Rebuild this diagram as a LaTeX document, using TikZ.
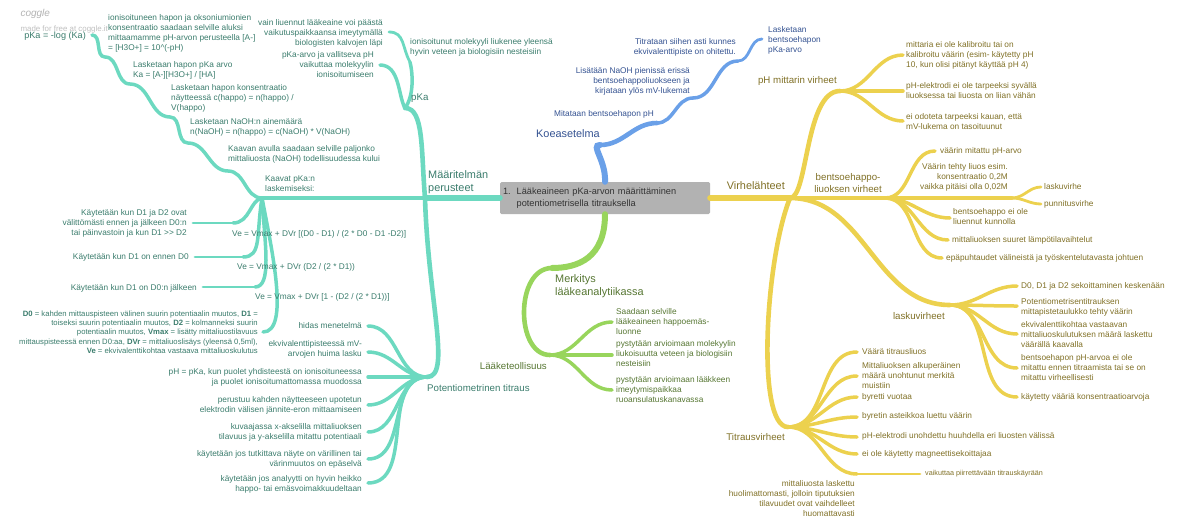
\documentclass[tikz,border=0pt]{standalone}
\usepackage{fontspec}
\setmainfont{Liberation Sans}
\usetikzlibrary{calc}
\definecolor{tealc}{RGB}{108,217,192}
\definecolor{tealt}{RGB}{58,124,108}
\definecolor{bluec}{RGB}{106,160,232}
\definecolor{bluet}{RGB}{52,82,145}
\definecolor{greenc}{RGB}{152,213,92}
\definecolor{greent}{RGB}{86,118,50}
\definecolor{yelc}{RGB}{236,209,78}
\definecolor{yelt}{RGB}{128,112,38}
\definecolor{rootc}{RGB}{178,178,178}
\tikzset{
  big/.style={inner sep=0pt,font=\fontsize{10.9}{13}\selectfont},
  mid/.style={inner sep=0pt,font=\fontsize{9.7}{11.8}\selectfont},
  sml/.style={inner sep=0pt,font=\fontsize{8.3}{10}\selectfont},
  tiny/.style={inner sep=0pt,font=\fontsize{7.2}{8.5}\selectfont},
  wA/.style={line width=6pt},
  wB/.style={line width=4.6pt},
  wC/.style={line width=3.5pt},
  wD/.style={line width=2.8pt},
  tbr/.style={draw=tealc,line cap=round},
  bbr/.style={draw=bluec,line cap=round},
  gbr/.style={draw=greenc,line cap=round},
  ybr/.style={draw=yelc,line cap=round},
  rootbox/.style={fill=rootc,rounded corners=1.5pt,minimum width=210pt,minimum height=32pt,
    text width=204pt,align=left,inner xsep=3pt,text=black!80,font=\fontsize{9.2}{12}\selectfont}
}
\begin{document}
\begin{tikzpicture}[x=1pt,y=-1pt]
\useasboundingbox (0,0) rectangle (1200,523);

% vesileima
\node[anchor=west,text=black!30,font=\fontsize{10}{11}\itshape] (cog) at (17,14) {coggle};
\node[anchor=west,text=black!25,font=\fontsize{7.9}{9}\selectfont] (made) at (17,29) {made for free at coggle.it};

\node[rootbox] (root) at (605,198) {\begin{tabular}{@{}l@{\hspace{6pt}}l@{}}1.&Lääkeaineen pKa-arvon määrittäminen\\&potentiometrisella titrauksella\end{tabular}};

% kärkipisteet
\coordinate (maar) at (425,198);
\coordinate (pka) at (405,108);
\coordinate (ion) at (410,62);
\coordinate (vain) at (389,32);
\coordinate (pkav) at (380,65);
\coordinate (kaav) at (262,198);
\coordinate (kava) at (228,171);
\coordinate (naoh) at (188,143);
\coordinate (konz) at (170,117);
\coordinate (pkaar) at (130,84);
\coordinate (ionh) at (105,57);
\coordinate (log) at (92,35);
\coordinate (ve1) at (233,223);
\coordinate (kay1) at (193,223);
\coordinate (ve2) at (243,257);
\coordinate (kay2) at (195,257);
\coordinate (ve3) at (255,287);
\coordinate (kay3) at (203,287);
\coordinate (dnol) at (263,332);
\coordinate (pot) at (427,377);
\coordinate (hid) at (368,326);
\coordinate (ekv) at (368,352);
\coordinate (phpk) at (368,377);
\coordinate (peru) at (368,405);
\coordinate (kuva) at (368,432);
\coordinate (vari) at (368,459);
\coordinate (heik) at (368,483);

\coordinate (koe) at (600,145);
\coordinate (mit) at (657,123);
\coordinate (lis) at (693,98);
\coordinate (titr) at (738,61);
\coordinate (lask) at (762,39);

\coordinate (merk) at (552,268);
\coordinate (teol) at (550,355);
\coordinate (saad) at (612,322);
\coordinate (liuk) at (612,355);
\coordinate (imey) at (612,390);

\coordinate (virh) at (790,198);
\coordinate (phm) at (840,91);
\coordinate (kal) at (903,55);
\coordinate (elek) at (903,91);
\coordinate (odot) at (903,121);
\coordinate (bent) at (885,198);
\coordinate (vmit) at (935,151);
\coordinate (vliu) at (1012,198);
\coordinate (lvir) at (1041,187);
\coordinate (punn) at (1041,204);
\coordinate (bliu) at (950,218);
\coordinate (lamp) at (948,240);
\coordinate (epap) at (942,258);
\coordinate (lvirh) at (950,305);
\coordinate (sek) at (1017,286);
\coordinate (taul) at (1017,306);
\coordinate (kva) at (1017,334);
\coordinate (bph) at (1017,368);
\coordinate (konv) at (1017,397);
\coordinate (titv) at (788,427);
\coordinate (vtl) at (857,352);
\coordinate (malk) at (857,376);
\coordinate (byr) at (857,397);
\coordinate (byra) at (857,417);
\coordinate (huuh) at (857,437);
\coordinate (magn) at (857,454);
\coordinate (huol) at (857,474);
\coordinate (vaik) at (920,474);

% haarat: Määritelmän perusteet
\draw[tbr,wA] (root.west) -- (maar);
\draw[tbr,wB] (maar) .. controls (421,150) and (424,108) .. (pka);
\draw[tbr,wC] (pka) .. controls (414,96) and (413,74) .. (ion);
\draw[tbr,wD] (ion) .. controls (402,48) and (405,32) .. (vain);
\draw[tbr,wC] (pka) .. controls (398,96) and (400,65) .. (pkav);
\draw[tbr,wB] (maar) -- (kaav);
\draw[tbr,wC] (kaav) to[out=180,in=0] (kava) to[out=180,in=0] (naoh) to[out=180,in=0] (konz)
  to[out=180,in=0] (pkaar) to[out=180,in=0] (ionh) to[out=180,in=0] (log);
\draw[tbr,wC] (kaav) .. controls (250,200) and (250,223) .. (ve1);
\draw[tbr,wD] (ve1) -- (kay1);
\draw[tbr,wC] (kaav) .. controls (256,235) and (262,257) .. (ve2);
\draw[tbr,wD] (ve2) -- (kay2);
\draw[tbr,wC] (kaav) .. controls (265,245) and (272,287) .. (ve3);
\draw[tbr,wD] (ve3) -- (kay3);
\draw[tbr,wC] (kaav) .. controls (272,250) and (290,332) .. (dnol);
\draw[tbr,wB] (maar) .. controls (428,300) and (452,377) .. (pot);
\foreach \k in {hid,ekv,phpk,peru,kuva,vari,heik}
  \draw[tbr,wC] (pot) to[out=180,in=0] (\k);

% Koeasetelma
\draw[bbr,wA] (root.north) .. controls (606,160) and (590,145) .. (koe);
\draw[bbr,wB] (koe) to[out=0,in=180] (mit);
\draw[bbr,wC] (mit) to[out=0,in=180] (lis);
\draw[bbr,wC] (lis) to[out=0,in=180] (titr);
\draw[bbr,wD] (titr) to[out=0,in=180] (lask);

% Merkitys
\draw[gbr,wA] (root.south) .. controls (605,258) and (578,268) .. (merk);
\draw[gbr,wB] (merk) .. controls (515,268) and (515,355) .. (teol);
\foreach \k in {saad,liuk,imey}
  \draw[gbr,wC] (teol) to[out=0,in=180] (\k);

% Virhelähteet
\draw[ybr,wA] (root.east) -- (virh);
\draw[ybr,wB] (virh) .. controls (808,198) and (805,91) .. (phm);
\foreach \k in {kal,elek,odot}
  \draw[ybr,wC] (phm) to[out=0,in=180] (\k);
\draw[ybr,wB] (virh) -- (bent);
\foreach \k in {vmit,bliu,lamp,epap}
  \draw[ybr,wC] (bent) to[out=0,in=180] (\k);
\draw[ybr,wC] (bent) -- (vliu);
\draw[ybr,wD] (vliu) to[out=0,in=180] (lvir);
\draw[ybr,wD] (vliu) to[out=0,in=180] (punn);
\draw[ybr,wB] (virh) to[out=0,in=180] (lvirh);
\foreach \k in {sek,taul,kva,bph,konv}
  \draw[ybr,wC] (lvirh) to[out=0,in=180] (\k);
\draw[ybr,wB] (virh) .. controls (765,260) and (756,427) .. (titv);
\foreach \k in {vtl,malk,byr,byra,huuh,magn,huol}
  \draw[ybr,wC] (titv) to[out=0,in=180] (\k);
\draw[ybr,wD] (huol) -- (vaik);

% tekstit: teal
\begin{scope}[text=tealt]
\node[big,anchor=west,align=left] (maar-t) at (428,182) {Määritelmän\\perusteet};
\node[mid,anchor=west] (pka-t) at (411,98) {pKa};
\node[sml,anchor=west,align=left] (ion-t) at (410,47) {ionisoitunut molekyyli liukenee yleensä\\hyvin veteen ja biologisiin nesteisiin};
\node[sml,anchor=east,align=right] (vain-t) at (383,33) {vain liuennut lääkeaine voi päästä\\vaikutuspaikkaansa imeytymällä\\biologisten kalvojen läpi};
\node[sml,anchor=east,align=right] (pkav-t) at (374,65) {pKa-arvo ja vallitseva pH\\vaikuttaa molekyylin\\ionisoitumiseen};
\node[sml,anchor=west,align=left] (kaav-t) at (265,184) {Kaavat pKa:n\\laskemiseksi:};
\node[sml,anchor=west,align=left] (kava-t) at (228,154) {Kaavan avulla saadaan selville paljonko\\mittaliuosta (NaOH) todellisuudessa kului};
\node[sml,anchor=west,align=left] (naoh-t) at (190,127) {Lasketaan NaOH:n ainemäärä\\n(NaOH) = n(happo) = c(NaOH) * V(NaOH)};
\node[sml,anchor=west,align=left] (konz-t) at (171,98) {Lasketaan hapon konsentraatio\\näytteessä c(happo) = n(happo) /\\V(happo)};
\node[sml,anchor=west,align=left] (pkaar-t) at (133,70) {Lasketaan hapon pKa arvo\\Ka = [A-][H3O+] / [HA]};
\node[sml,anchor=west,align=left] (ionh-t) at (108,33) {ionisoituneen hapon ja oksoniumionien\\konsentraatio saadaan selville aluksi\\mittaamamme pH-arvon perusteella [A-]\\= [H3O+] = 10\textasciicircum(-pH)};
\node[inner sep=0pt,font=\fontsize{9.1}{11}\selectfont,anchor=east] (log-t) at (86,36) {pKa = -log (Ka)};
\node[sml,anchor=west] (ve1-t) at (232,234) {Ve = Vmax + DVr [(D0 - D1) / (2 * D0 - D1 -D2)]};
\node[sml,anchor=east,align=right] (kay1-t) at (187,223) {Käytetään kun D1 ja D2 ovat\\välittömästi ennen ja jälkeen D0:n\\tai päinvastoin ja kun D1 {>}{>} D2};
\node[sml,anchor=west] (ve2-t) at (237,267) {Ve = Vmax + DVr (D2 / (2 * D1))};
\node[sml,anchor=east] (kay2-t) at (189,257) {Käytetään kun D1 on ennen D0};
\node[sml,anchor=west] (ve3-t) at (255,297) {Ve = Vmax + DVr [1 - (D2 / (2 * D1))]};
\node[sml,anchor=east] (kay3-t) at (197,288) {Käytetään kun D1 on D0:n jälkeen};
\node[inner sep=0pt,font=\fontsize{7.7}{9.3}\selectfont,anchor=east,align=right] (dnol-t) at (258,332)
  {\textbf{D0} = kahden mittauspisteen välinen suurin potentiaalin muutos, \textbf{D1} =\\
   toiseksi suurin potentiaalin muutos, \textbf{D2} = kolmanneksi suurin\\
   potentiaalin muutos, \textbf{Vmax} = lisätty mittaliuostilavuus\\
   mittauspisteessä ennen D0:aa, \textbf{DVr} = mittaliuoslisäys (yleensä 0,5ml),\\
   \textbf{Ve} = ekvivalenttikohtaa vastaava mittaliuoskulutus};
\node[mid,anchor=west] (pot-t) at (427,388) {Potentiometrinen titraus};
\node[sml,anchor=east] (hid-t) at (362,326) {hidas menetelmä};
\node[sml,anchor=east,align=right] (ekv-t) at (362,349) {ekvivalenttipisteessä mV-\\arvojen huima lasku};
\node[sml,anchor=east,align=right] (phpk-t) at (362,377) {pH = pKa, kun puolet yhdisteestä on ionisoituneessa\\ja puolet ionisoitumattomassa muodossa};
\node[sml,anchor=east,align=right] (peru-t) at (362,405) {perustuu kahden näytteeseen upotetun\\elektrodin välisen jännite-eron mittaamiseen};
\node[sml,anchor=east,align=right] (kuva-t) at (362,432) {kuvaajassa x-akselilla mittaliuoksen\\tilavuus ja y-akselilla mitattu potentiaali};
\node[sml,anchor=east,align=right] (vari-t) at (362,459) {käytetään jos tutkittava näyte on värillinen tai\\värinmuutos on epäselvä};
\node[sml,anchor=east,align=right] (heik-t) at (362,484) {käytetään jos analyytti on hyvin heikko\\happo- tai emäsvoimakkuudeltaan};
\end{scope}

% tekstit: sininen
\begin{scope}[text=bluet]
\node[big,anchor=east] (koe-t) at (600,134) {Koeasetelma};
\node[sml,anchor=east] (mit-t) at (654,114) {Mitataan bentsoehapon pH};
\node[sml,anchor=east,align=right] (lis-t) at (690,81) {Lisätään NaOH pienissä erissä\\bentsoehappoliuokseen ja\\kirjataan ylös mV-lukemat};
\node[sml,anchor=east,align=right] (titr-t) at (736,47) {Titrataan siihen asti kunnes\\ekvivalenttipiste on ohitettu.};
\node[sml,anchor=west,align=left] (lask-t) at (768,40) {Lasketaan\\bentsoehapon\\pKa-arvo};
\end{scope}

% tekstit: vihreä
\begin{scope}[text=greent]
\node[big,anchor=west,align=left] (merk-t) at (555,286) {Merkitys\\lääkeanalytiikassa};
\node[mid,anchor=east] (teol-t) at (547,366) {Lääketeollisuus};
\node[sml,anchor=west,align=left] (saad-t) at (616,322) {Saadaan selville\\lääkeaineen happoemäs-\\luonne};
\node[sml,anchor=west,align=left] (liuk-t) at (616,354) {pystytään arvioimaan molekyylin\\liukoisuutta veteen ja biologisiin\\nesteisiin};
\node[sml,anchor=west,align=left] (imey-t) at (616,390) {pystytään arvioimaan lääkkeen\\imeytymispaikkaa\\ruoansulatuskanavassa};
\end{scope}

% tekstit: keltainen
\begin{scope}[text=yelt]
\node[big,anchor=east] (virh-t) at (785,186) {Virhelähteet};
\node[mid,anchor=east] (phm-t) at (837,81) {pH mittarin virheet};
\node[sml,anchor=west,align=left] (kal-t) at (906,55) {mittaria ei ole kalibroitu tai on\\kalibroitu väärin (esim- käytetty pH\\10, kun olisi pitänyt käyttää pH 4)};
\node[sml,anchor=west,align=left] (elek-t) at (906,91) {pH-elektrodi ei ole tarpeeksi syvällä\\liuoksessa tai liuosta on liian vähän};
\node[sml,anchor=west,align=left] (odot-t) at (906,122) {ei odoteta tarpeeksi kauan, että\\mV-lukema on tasoituunut};
\node[mid,anchor=east,align=center] (bent-t) at (882,183) {bentsoehappo-\\liuoksen virheet};
\node[sml,anchor=west] (vmit-t) at (940,151) {väärin mitattu pH-arvo};
\node[sml,anchor=east,align=right] (vliu-t) at (1008,177) {Väärin tehty liuos esim.\\konsentraatio 0,2M\\vaikka pitäisi olla 0,02M};
\node[sml,anchor=west] (lvir-t) at (1044,187) {laskuvirhe};
\node[sml,anchor=west] (punn-t) at (1044,204) {punnitusvirhe};
\node[sml,anchor=west,align=left] (bliu-t) at (953,217) {bentsoehappo ei ole\\liuennut kunnolla};
\node[sml,anchor=west] (lamp-t) at (952,240) {mittaliuoksen suuret lämpötilavaihtelut};
\node[sml,anchor=west] (epap-t) at (946,258) {epäpuhtaudet välineistä ja työskentelutavasta johtuen};
\node[mid,anchor=east] (lvirh-t) at (945,316) {laskuvirheet};
\node[sml,anchor=west] (sek-t) at (1021,286) {D0, D1 ja D2 sekoittaminen keskenään};
\node[sml,anchor=west,align=left] (taul-t) at (1021,307) {Potentiometrisentitrauksen\\mittapistetaulukko tehty väärin};
\node[sml,anchor=west,align=left] (kva-t) at (1021,335) {ekvivalenttikohtaa vastaavan\\mittaliuoskulutuksen määrä laskettu\\väärällä kaavalla};
\node[sml,anchor=west,align=left] (bph-t) at (1021,368) {bentsoehapon pH-arvoa ei ole\\mitattu ennen titraamista tai se on\\mitattu virheellisesti};
\node[sml,anchor=west] (konv-t) at (1021,397) {käytetty vääriä konsentraatioarvoja};
\node[mid,anchor=east] (titv-t) at (785,437) {Titrausvirheet};
\node[sml,anchor=west] (vtl-t) at (862,352) {Väärä titrausliuos};
\node[sml,anchor=west,align=left] (malk-t) at (862,376) {Mittaliuoksen alkuperäinen\\määrä unohtunut merkitä\\muistiin};
\node[sml,anchor=west] (byr-t) at (862,397) {byretti vuotaa};
\node[sml,anchor=west] (byra-t) at (862,416) {byretin asteikkoa luettu väärin};
\node[sml,anchor=west] (huuh-t) at (862,436) {pH-elektrodi unohdettu huuhdella eri liuosten välissä};
\node[sml,anchor=west] (magn-t) at (862,454) {ei ole käytetty magneettisekoittajaa};
\node[sml,anchor=east,align=right] (huol-t) at (855,499) {mittaliuosta laskettu\\huolimattomasti, jolloin tiputuksien\\tilavuudet ovat vaihdelleet\\huomattavasti};
\node[tiny,anchor=west] (vaik-t) at (925,474) {vaikuttaa piirrettävään titrauskäyrään};
\end{scope}
\end{tikzpicture}
\end{document}
